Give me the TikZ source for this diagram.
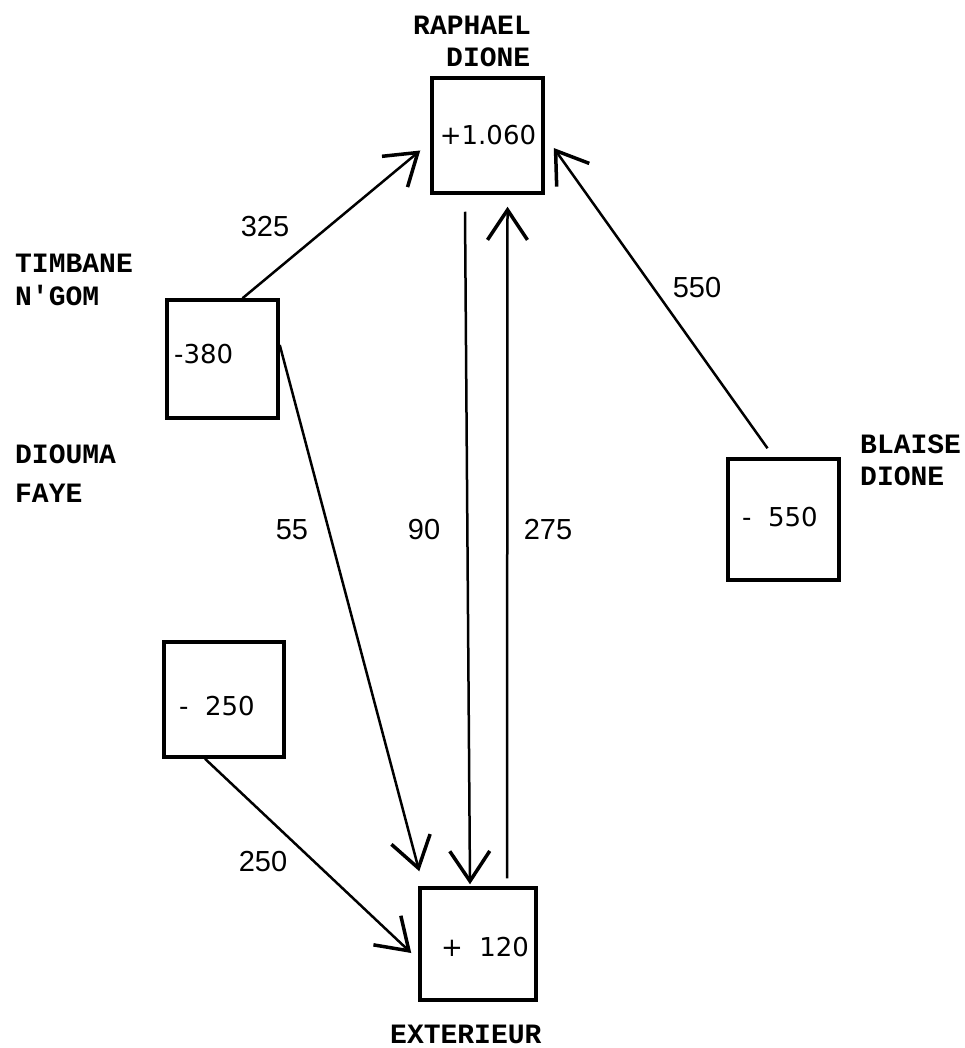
\documentclass[tikz,border=0pt]{standalone}
\usepackage{fontspec}
\setmainfont{Liberation Sans}
\setmonofont{Liberation Mono}
\newfontfamily\valfont{DejaVu Sans}
\usetikzlibrary{arrows.meta,calc}
\begin{document}
\begin{tikzpicture}[x=1pt,y=-1pt,
  box/.style={draw, line width=3.5pt, inner sep=0pt},
  val/.style={inner sep=0pt, font=\valfont\fontsize{26}{30}\selectfont},
  flow/.style={inner sep=0pt, font=\fontsize{29}{33}\selectfont},
  who/.style={inner sep=0pt, anchor=west, font=\ttfamily\bfseries\fontsize{28}{32}\selectfont},
  arr/.style={line width=2.5pt, -{Straight Barb[length=30pt,width=40pt,line width=3.5pt]}}]
\useasboundingbox (0,0) rectangle (965,1048);
% boxes
\node[box, minimum width=111pt, minimum height=115pt] (R) at (487.5,135.5) {};
\node[box, minimum width=111pt, minimum height=118pt] (T) at (222.5,359) {};
\node[box, minimum width=111pt, minimum height=121pt] (B) at (783.5,519.5) {};
\node[box, minimum width=120pt, minimum height=115pt] (F) at (224,699.5) {};
\node[box, minimum width=116pt, minimum height=112pt] (E) at (478,944) {};
% values
\node[val] (Rv) at (488,135) {+1.060};
\node[val, anchor=west] (Tv) at (174,354) {-380};
\node[val] (Bv) at (780,517) {-\ \ 550};
\node[val] (Fv) at (217,706) {-\ \ 250};
\node[val] (Ev) at (485,947) {+\ \ 120};
% names
\node[who] (Rn1) at (413,25) {RAPHAEL};
\node[who] (Rn2) at (446,57) {DIONE};
\node[who] (Tn1) at (15,263) {TIMBANE};
\node[who] (Tn2) at (15,295) {N'GOM};
\node[who] (Dn1) at (15,454) {DIOUMA};
\node[who] (Dn2) at (15,493) {FAYE};
\node[who] (Bn1) at (860,444) {BLAISE};
\node[who] (Bn2) at (860,476) {DIONE};
\node[who] (En) at (390,1034) {EXTERIEUR};
% connectors
\draw[arr] ($(T.north)+(20,0)$) -- ($(R.west)+(-10,15)$);
\draw[arr] ($(B.north)+(-16,-9)$) -- ($(R.east)+(9,12.5)$);
\draw[arr] ($(R.south)+(-22.5,17)$) -- ($(E.north)+(-8,-2)$);
\draw[arr] ($(E.north)+(29,-8)$) -- ($(R.south)+(20,12)$);
\draw[arr] ($(T.east)+(0,-14)$) -- ($(E.north west)+(1,-15)$);
\draw[arr] ($(F.south)+(-19,0)$) -- ($(E.west)+(-7,9)$);
% flow labels
\node[flow] (l325) at (265,227) {325};
\node[flow] (l550) at (697,288) {550};
\node[flow] (l55) at (292,530) {55};
\node[flow] (l90) at (424,530) {90};
\node[flow] (l275) at (548,530) {275};
\node[flow] (l250) at (263,862) {250};
\end{tikzpicture}
\end{document}
